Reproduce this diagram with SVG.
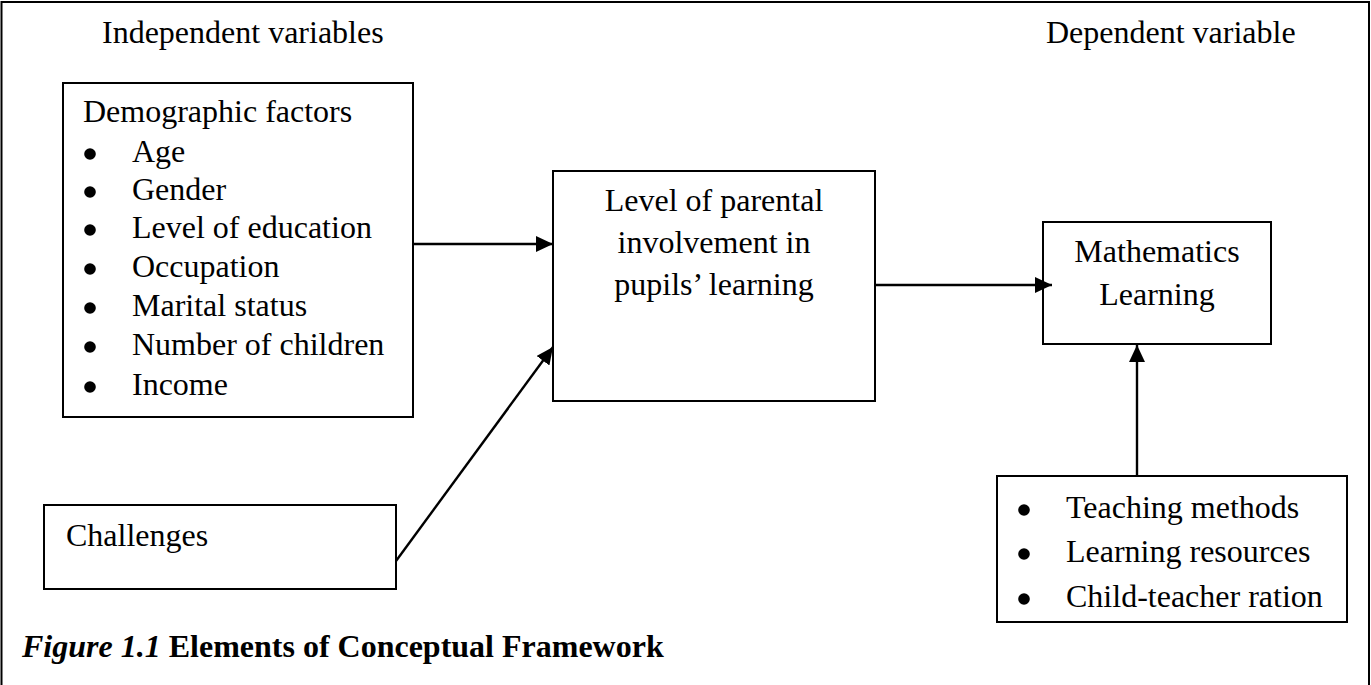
<svg xmlns="http://www.w3.org/2000/svg" width="1371" height="685" viewBox="0 0 1371 685">
<style>
text{font-family:"Liberation Serif","Times New Roman",serif;font-size:32px;fill:#000}
.box{fill:#fff;stroke:#000;stroke-width:2}
.c{text-anchor:middle}
.con{stroke:#000;stroke-width:2.4;fill:none}
.b{fill:#000}
.cap{font-weight:bold}
</style>
<defs>
<marker id="ah" markerUnits="userSpaceOnUse" markerWidth="18" markerHeight="16" refX="17" refY="8" orient="auto">
<path d="M0,0 L17,8 L0,16 z" fill="#000"/>
</marker>
</defs>
<rect width="1371" height="685" fill="#fff"/>
<path d="M1.5,685 V2 H1369 V685" fill="none" stroke="#000" stroke-width="2"/>
<g id="labels">
<text x="102" y="43">Independent variables</text>
<text x="1046" y="43">Dependent variable</text>
</g>
<g id="demographic">
<rect class="box" x="63" y="83" width="350" height="334"/>
<text x="83" y="122">Demographic factors</text>
<circle class="b" cx="90" cy="154" r="5.8"/><text x="132" y="162">Age</text>
<circle class="b" cx="90" cy="192" r="5.8"/><text x="132" y="200">Gender</text>
<circle class="b" cx="90" cy="230" r="5.8"/><text x="132" y="238">Level of education</text>
<circle class="b" cx="90" cy="269" r="5.8"/><text x="132" y="277">Occupation</text>
<circle class="b" cx="90" cy="308" r="5.8"/><text x="132" y="316">Marital status</text>
<circle class="b" cx="90" cy="347" r="5.8"/><text x="132" y="355">Number of children</text>
<circle class="b" cx="90" cy="387" r="5.8"/><text x="132" y="395">Income</text>
</g>
<g id="challenges">
<rect class="box" x="44" y="505" width="352" height="84"/>
<text x="66" y="546">Challenges</text>
</g>
<g id="parental">
<rect class="box" x="553" y="171" width="322" height="230"/>
<text class="c" x="714" y="211">Level of parental</text>
<text class="c" x="714" y="253">involvement in</text>
<text class="c" x="714" y="295">pupils’ learning</text>
</g>
<g id="math">
<rect class="box" x="1043" y="222" width="228" height="122"/>
<text class="c" x="1157" y="262">Mathematics</text>
<text class="c" x="1157" y="305">Learning</text>
</g>
<g id="factors">
<rect class="box" x="997" y="476" width="350" height="146"/>
<circle class="b" cx="1024" cy="510" r="5.8"/><text x="1066" y="518">Teaching methods</text>
<circle class="b" cx="1024" cy="554" r="5.8"/><text x="1066" y="562">Learning resources</text>
<circle class="b" cx="1024" cy="599" r="5.8"/><text x="1066" y="607">Child-teacher ration</text>
</g>
<g id="connectors">
<line class="con" x1="413" y1="244" x2="553" y2="244" marker-end="url(#ah)"/>
<line class="con" x1="396" y1="561" x2="553" y2="347" marker-end="url(#ah)"/>
<line class="con" x1="875" y1="285" x2="1052" y2="285" marker-end="url(#ah)"/>
<line class="con" x1="1137" y1="476" x2="1137" y2="345" marker-end="url(#ah)"/>
</g>
<g id="caption">
<text class="cap" x="22" y="657"><tspan font-style="italic">Figure 1.1</tspan> Elements of Conceptual Framework</text>
</g>
</svg>
